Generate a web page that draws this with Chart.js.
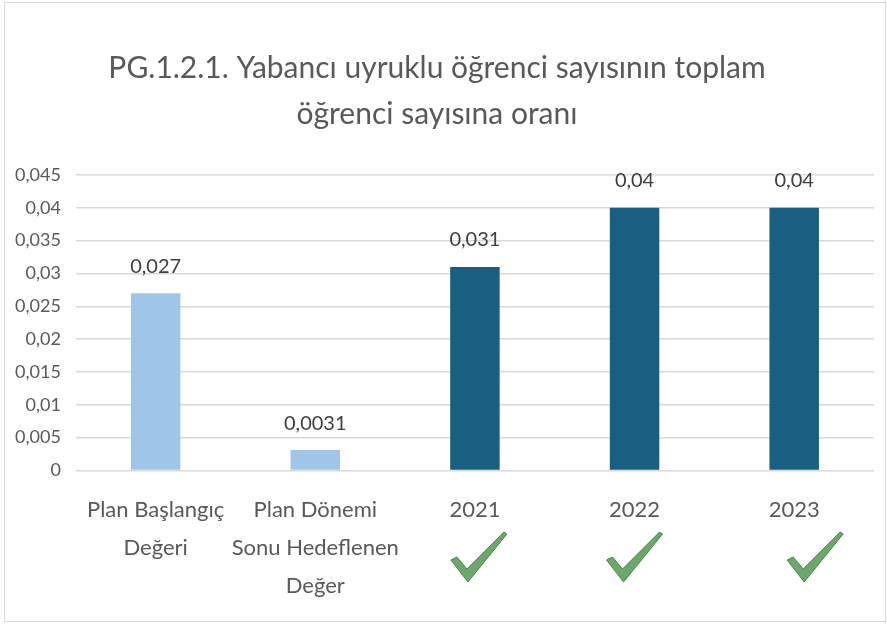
<!DOCTYPE html>
<html>
<head>
<meta charset="utf-8">
<script src="https://cdn.jsdelivr.net/npm/chart.js@4/dist/chart.umd.min.js"></script>
<style>
  body { margin: 0; background: #fff; }
  #wrap { position: relative; width: 887px; height: 625px; }
  #frame { position: absolute; left: 4px; top: 2px; width: 880px; height: 618px; border: 1px solid #d9d9d9; pointer-events: none; }
</style>
</head>
<body>
<div id="wrap">
  <canvas id="chart" width="887" height="625"></canvas>
  <div id="frame"></div>
</div>
<script>
// chart values
const categories = [
  ['Plan Başlangıç', 'Değeri'],
  ['Plan Dönemi', 'Sonu Hedeflenen', 'Değer'],
  '2021', '2022', '2023'
];
const values = [0.027, 0.0031, 0.031, 0.04, 0.04];
const valueLabels = ['0,027', '0,0031', '0,031', '0,04', '0,04'];
const yTicks = [0, 0.005, 0.01, 0.015, 0.02, 0.025, 0.03, 0.035, 0.04, 0.045];
const checked = [false, false, true, true, true];

const lightBlue = '#9fc5e8';
const darkBlue = '#185f82';
const barColors = values.map((v, i) => i < 2 ? lightBlue : darkBlue);

const FONT = 'Lato, "Open Sans", sans-serif';

// value labels above each bar
const valueLabelPlugin = {
  id: 'valueLabels',
  afterDatasetsDraw(chart) {
    const ctx = chart.ctx;
    const meta = chart.getDatasetMeta(0);
    ctx.save();
    ctx.font = '20px ' + FONT;
    ctx.fillStyle = '#404040';
    ctx.textAlign = 'center';
    ctx.textBaseline = 'bottom';
    meta.data.forEach((bar, i) => {
      ctx.fillText(valueLabels[i], bar.x, bar.y - 17);
    });
    ctx.restore();
  }
};

// green check marks under the years
const checkPlugin = {
  id: 'checks',
  afterDraw(chart, args, opts) {
    const ctx = chart.ctx;
    const xs = chart.scales.x;
    ctx.save();
    checked.forEach((c, i) => {
      if (!c) return;
      const x = xs.getPixelForValue(i) + opts.offsets[i];
      const y = opts.y;
      ctx.beginPath();
      ctx.moveTo(x - 15, y - 22);
      ctx.lineTo(x - 9, y - 25);
      ctx.lineTo(x + 1, y - 13);
      ctx.lineTo(x + 38, y - 50);
      ctx.lineTo(x + 41, y - 48);
      ctx.lineTo(x + 2, y);
      ctx.closePath();
      ctx.fillStyle = '#6aa96a';
      ctx.fill();
      ctx.strokeStyle = '#4f7f4f';
      ctx.lineWidth = 1;
      ctx.stroke();
    });
    ctx.restore();
  }
};

new Chart(document.getElementById('chart'), {
  type: 'bar',
  data: {
    labels: categories,
    datasets: [{
      data: values,
      backgroundColor: barColors,
      barPercentage: 0.31,
      categoryPercentage: 1
    }]
  },
  options: {
    responsive: false,
    animation: false,
    layout: { padding: { left: 0, right: 13, top: 45, bottom: 7 } },
    plugins: {
      legend: { display: false },
      tooltip: { enabled: false },
      title: {
        display: true,
        text: ['PG.1.2.1. Yabancı uyruklu öğrenci sayısının toplam', 'öğrenci sayısına oranı'],
        color: '#595959',
        font: { family: FONT, size: 30, weight: 'normal', lineHeight: 1.55 },
        padding: { top: 0, bottom: 37 }
      },
      checks: { y: 582, offsets: [0, 0, -9, -13, 8] }
    },
    scales: {
      x: {
        grid: { display: false },
        border: { display: false },
        ticks: {
          color: '#595959',
          font: { family: FONT, size: 22, lineHeight: 1.72 },
          padding: 13,
          maxRotation: 0,
          autoSkip: false
        }
      },
      y: {
        min: 0,
        max: 0.045,
        afterBuildTicks(axis) { axis.ticks = yTicks.map(v => ({ value: v })); },
        grid: { color: '#d9d9d9', lineWidth: 1.5, drawTicks: false },
        border: { display: false },
        ticks: {
          color: '#595959',
          font: { family: FONT, size: 18 },
          padding: 15,
          callback: v => String(Number(v.toFixed(4))).replace('.', ',')
        }
      }
    }
  },
  plugins: [valueLabelPlugin, checkPlugin]
});
</script>
</body>
</html>
